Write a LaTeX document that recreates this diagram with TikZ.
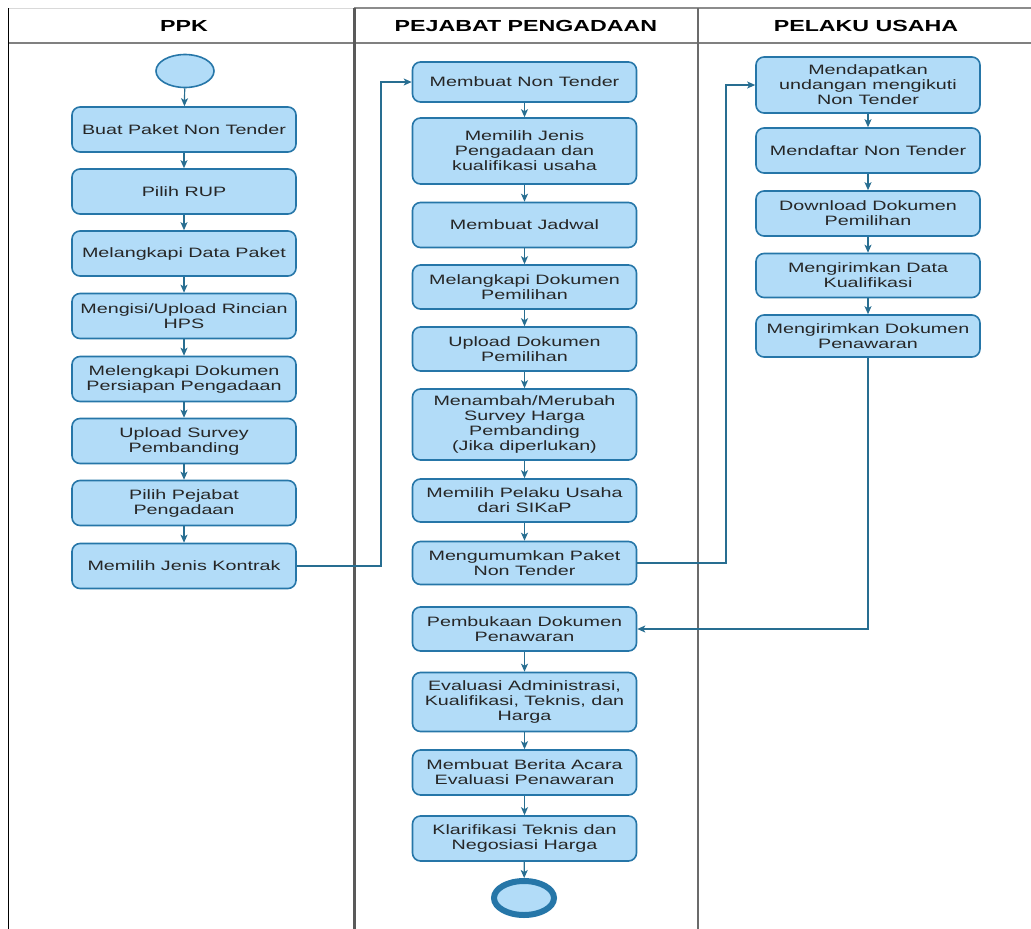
\documentclass[tikz,border=0pt]{standalone}
\usepackage{fontspec}
\setmainfont[FakeStretch=1.45]{Liberation Sans}
\usetikzlibrary{arrows.meta,shapes.geometric}
\definecolor{boxfill}{RGB}{178,220,248}
\definecolor{boxline}{RGB}{38,118,168}
\definecolor{arrline}{RGB}{40,110,145}
\definecolor{lanegray}{RGB}{90,90,90}
\tikzset{
  act/.style={draw=boxline, line width=1.6pt, fill=boxfill, rounded corners=8pt,
    minimum width=224pt, inner sep=0pt, align=center,
    font=\fontsize{13.6}{15}\selectfont, text=black!85},
  arr/.style={draw=arrline, line width=1.2pt, -{Stealth[length=8pt,width=7pt,inset=2pt]}},
  hdr/.style={font=\bfseries\fontsize{16}{18}\selectfont},
}
\begin{document}
\begin{tikzpicture}[x=1pt,y=-1pt]
\useasboundingbox (0,0) rectangle (1031,929);
% lanes
\draw[black!15, line width=1pt] (8,8) -- (354,8);
\draw[black!45, line width=1.2pt] (354,8) -- (1031,8);
\draw[black!50, line width=2pt] (8,43) -- (1031,43);
\draw[black, line width=1.6pt] (8.5,8) -- (8.5,929);
\draw[lanegray, line width=3pt] (354,8) -- (354,929);
\draw[lanegray!90, line width=2.6pt] (698,8) -- (698,929);
\node[hdr] (h1) at (184,26) {PPK};
\node[hdr] (h2) at (526,26) {PEJABAT PENGADAAN};
\node[hdr] (h3) at (866,26) {PELAKU USAHA};
% PPK
\node[draw=boxline, line width=1.6pt, fill=boxfill, ellipse, minimum width=58pt, minimum height=33pt, inner sep=0pt] (start) at (185,71) {};
\node[act, minimum height=45pt] (p1) at (184,129.5) {Buat Paket Non Tender};
\node[act, minimum height=45pt] (p2) at (184,191.5) {Pilih RUP};
\node[act, minimum height=45pt] (p3) at (184,253.5) {Melangkapi Data Paket};
\node[act, minimum height=45pt] (p4) at (184,316) {Mengisi/Upload Rincian\\HPS};
\node[act, minimum height=45pt] (p5) at (184,379) {Melengkapi Dokumen\\Persiapan Pengadaan};
\node[act, minimum height=45pt] (p6) at (184,441) {Upload Survey\\Pembanding};
\node[act, minimum height=45pt] (p7) at (184,503) {Pilih Pejabat\\Pengadaan};
\node[act, minimum height=45pt] (p8) at (184,566) {Memilih Jenis Kontrak};
% Pejabat
\node[act, minimum height=40pt] (m1) at (524.5,82) {Membuat Non Tender};
\node[act, minimum height=66pt] (m2) at (524.5,151) {Memilih Jenis\\Pengadaan dan\\kualifikasi usaha};
\node[act, minimum height=45pt] (m3) at (524.5,225) {Membuat Jadwal};
\node[act, minimum height=44pt] (m4) at (524.5,287) {Melangkapi Dokumen\\Pemilihan};
\node[act, minimum height=44pt] (m5) at (524.5,349) {Upload Dokumen\\Pemilihan};
\node[act, minimum height=71pt] (m6) at (524.5,424.5) {Menambah/Merubah\\Survey Harga\\Pembanding\\(Jika diperlukan)};
\node[act, minimum height=43pt] (m7) at (524.5,500.5) {Memilih Pelaku Usaha\\dari SIKaP};
\node[act, minimum height=43pt] (m8) at (524.5,563) {Mengumumkan Paket\\Non Tender};
\node[act, minimum height=44pt] (m9) at (524.5,629) {Pembukaan Dokumen\\Penawaran};
\node[act, minimum height=59pt] (m10) at (524.5,702) {Evaluasi Administrasi,\\Kualifikasi, Teknis, dan\\Harga};
\node[act, minimum height=45pt] (m11) at (524.5,772.5) {Membuat Berita Acara\\Evaluasi Penawaran};
\node[act, minimum height=45pt] (m12) at (524.5,838.5) {Klarifikasi Teknis dan\\Negosiasi Harga};
\node[draw=boxline, line width=6pt, fill=boxfill, ellipse, minimum width=60pt, minimum height=34pt, inner sep=0pt] (end) at (524,898) {};
% Pelaku
\node[act, minimum height=56pt] (r1) at (868,85) {Mendapatkan\\undangan mengikuti\\Non Tender};
\node[act, minimum height=45pt] (r2) at (868,150.5) {Mendaftar Non Tender};
\node[act, minimum height=45pt] (r3) at (868,213.5) {Download Dokumen\\Pemilihan};
\node[act, minimum height=44pt] (r4) at (868,275.5) {Mengirimkan Data\\Kualifikasi};
\node[act, minimum height=42pt] (r5) at (868,336) {Mengirimkan Dokumen\\Penawaran};
% helper coordinates
\coordinate (j1) at (381,0);
\coordinate (j2) at (726,0);
% connectors
\draw[arr] (start) -- (p1);
\foreach \a/\b in {p1/p2,p2/p3,p3/p4,p4/p5,p5/p6,p6/p7,p7/p8,
  m1/m2,m2/m3,m3/m4,m4/m5,m5/m6,m6/m7,m7/m8,m9/m10,m10/m11,m11/m12,
  r1/r2,r2/r3,r3/r4,r4/r5}
  \draw[arr] (\a) -- (\b);
\draw[arr] (m12) -- (end);
\draw[arr] (p8.east) -- (p8.east -| j1) |- (m1.west);
\draw[arr] (m8.east) -- (m8.east -| j2) |- (r1.west);
\draw[arr] (r5.south) |- (m9.east);
\end{tikzpicture}
\end{document}
